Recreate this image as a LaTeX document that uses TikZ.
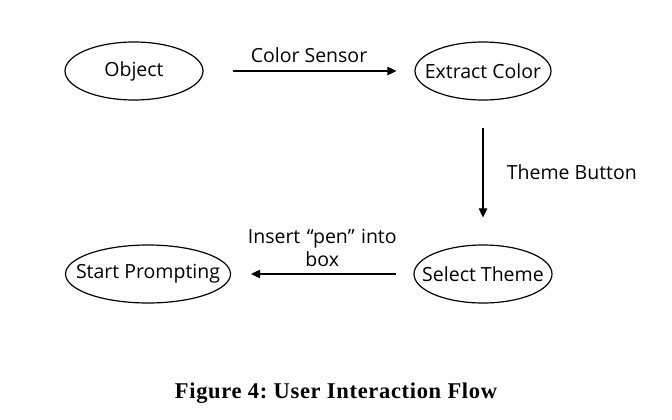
\documentclass[tikz,border=0pt]{standalone}
\usepackage{fontspec}
\setmainfont{Open Sans}
\newfontfamily\capfont[LetterSpace=3]{Liberation Serif}
\usetikzlibrary{shapes.geometric,arrows.meta}
\newcommand{\statetext}[1]{\makebox[0pt]{#1}}
\begin{document}
\begin{tikzpicture}[x=1pt,y=-1pt,
  state/.style={draw,ellipse,line width=1.2pt,inner sep=0pt,minimum height=58pt,font=\fontsize{19.5}{23}\selectfont},
  flow/.style={-{Triangle[length=9pt,width=8.5pt]},line width=1.1pt},
  lbl/.style={font=\fontsize{19.5}{23}\selectfont,align=center}]
\useasboundingbox (0,0) rectangle (672,420);

\node[state,minimum width=138pt] (object) at (134,71) {\statetext{Object}};
\node[state,minimum width=136pt] (extract) at (483,71) {\statetext{Extract Color}};
\node[state,minimum width=138pt] (select) at (483,274) {\statetext{Select Theme}};
\node[state,minimum width=165pt] (start) at (148,274) {\statetext{Start Prompting}};

\draw[flow,shorten <=29pt,shorten >=18pt] (object) -- (extract)
  node[lbl,midway,above=4pt] {Color Sensor};
\draw[flow,shorten <=27pt,shorten >=27pt] (extract) -- (select)
  node[lbl,midway,right=20pt] {Theme Button};
\draw[flow,shorten <=17pt,shorten >=20pt] (select) -- (start)
  node[lbl,midway,above=3pt,text width=170pt] {Insert “pen” into\\box};

\node[font=\capfont\bfseries\fontsize{22.5}{26}\selectfont] (caption) at (336,393) {Figure~4:~User Interaction Flow};
\end{tikzpicture}
\end{document}
